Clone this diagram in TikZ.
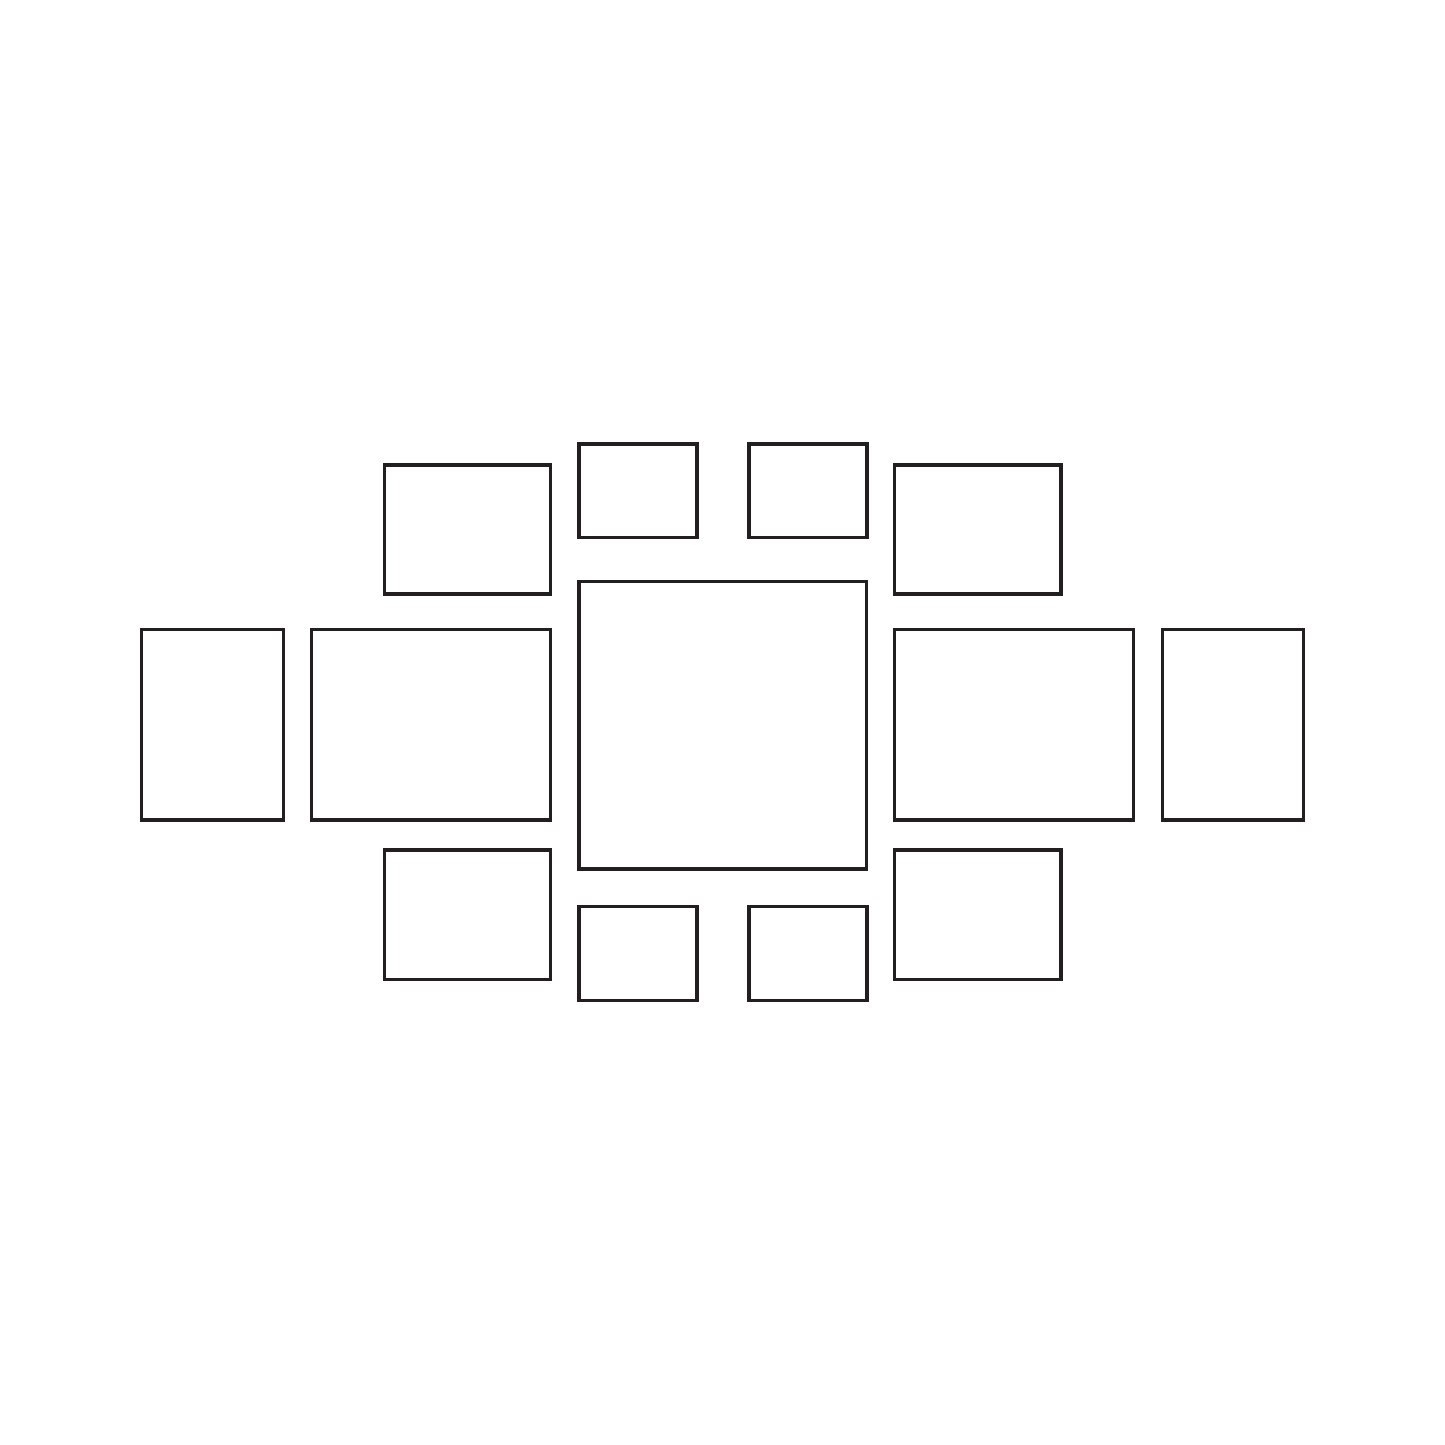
\documentclass[tikz,border=0pt]{standalone}
\usepackage{tikz}

\definecolor{framecol}{HTML}{231F20}

\begin{document}
\begin{tikzpicture}[
  frame/.style={draw=framecol, rectangle, line width=0.033cm, inner sep=0pt},
  small/.style={frame, minimum width=1.18cm, minimum height=0.935cm},
  medium/.style={frame, minimum width=1.662cm, minimum height=1.292cm},
  tall/.style={frame, minimum width=1.416cm, minimum height=1.903cm},
  wide/.style={frame, minimum width=2.39cm, minimum height=1.903cm},
  square/.style={frame, minimum width=2.875cm, minimum height=2.877cm}
]
\useasboundingbox (0,0) rectangle (14.45,14.45);

% ---- Top row ----
\node[medium] (topmedl) at (4.676, 9.155) {};
\node[small] (topsmalll) at (6.38, 9.542) {};
\node[small] (topsmallr) at (8.08, 9.542) {};
\node[medium] (topmedr) at (9.779, 9.155) {};

% ---- Middle row ----
\node[tall] (farleft) at (2.125, 7.2015) {};
\node[wide] (wideleft) at (4.312, 7.2015) {};
\node[square] (centre) at (7.2275, 7.1985) {};
\node[wide] (wideright) at (10.143, 7.2015) {};
\node[tall] (farright) at (12.33, 7.2015) {};

% ---- Bottom row ----
\node[medium] (botmedl) at (4.676, 5.303) {};
\node[small] (botsmalll) at (6.38, 4.915) {};
\node[small] (botsmallr) at (8.08, 4.915) {};
\node[medium] (botmedr) at (9.779, 5.303) {};

\end{tikzpicture}
\end{document}
